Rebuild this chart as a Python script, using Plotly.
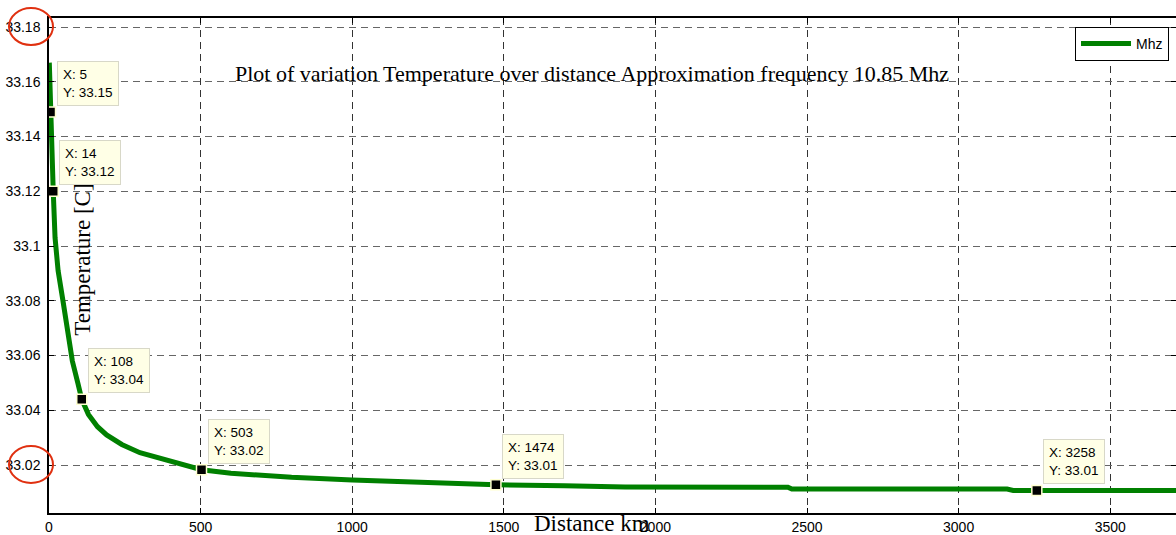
import plotly.graph_objects as go

# Curve
distance = [1, 3, 5, 8, 14, 20, 30, 46, 60, 77, 95, 108, 130, 160, 190, 240, 300, 400, 503,
            600, 800, 1000, 1200, 1474, 1700, 1900, 2437, 2450, 3160, 3180, 3258, 3720]
temperature = [33.167, 33.158, 33.149, 33.137, 33.120, 33.103, 33.091, 33.080, 33.069, 33.058,
               33.050, 33.044, 33.0385, 33.034, 33.031, 33.0275, 33.0245, 33.0213, 33.0183,
               33.0170, 33.0155, 33.0145, 33.0137, 33.0128, 33.0124, 33.0120, 33.0119,
               33.0112, 33.0112, 33.0107, 33.0107, 33.0107]

# Data tips
tip_x = [5, 14, 108, 503, 1474, 3258]
tip_y = [33.149, 33.120, 33.044, 33.0183, 33.0128, 33.0107]
tip_labels = ["33.15", "33.12", "33.04", "33.02", "33.01", "33.01"]

x_ticks = [0, 500, 1000, 1500, 2000, 2500, 3000, 3500]
y_ticks = [33.02, 33.04, 33.06, 33.08, 33.10, 33.12, 33.14, 33.16, 33.18]
y_ticktext = ["33.02", "33.04", "33.06", "33.08", "33.1", "33.12", "33.14", "33.16", "33.18"]
circled_ticks = [33.18, 33.02]

x_range = [0, 3717]
y_range = [33.00247, 33.1833]

SANS = "Arial, Liberation Sans, sans-serif"
SERIF = "Times New Roman, Liberation Serif, serif"

fig = go.Figure()
fig.add_trace(go.Scatter(x=distance, y=temperature, mode="lines", name="Mhz",
                         line=dict(color="#008000", width=5)))
fig.add_trace(go.Scatter(x=tip_x, y=tip_y, mode="markers", showlegend=False,
                         marker=dict(symbol="square", size=10, color="black",
                                     line=dict(color="#FFFFD0", width=1.5))))

# Title and axis titles placed inside/over the axes as in the original
fig.add_annotation(x=0.482, y=0.887, xref="paper", yref="paper", yanchor="middle",
                   text="Plot of variation Temperature over distance Approximation frequency 10.85 Mhz",
                   showarrow=False, font=dict(family=SERIF, size=22, color="black"))
fig.add_annotation(x=0.482, y=0, xref="paper", yref="paper", yanchor="middle", yshift=-10,
                   text="Distance km", showarrow=False,
                   font=dict(family=SERIF, size=23, color="black"))
fig.add_annotation(x=0.029, y=0.511, xref="paper", yref="paper", textangle=-90,
                   xanchor="center", yanchor="middle",
                   text="Temperature [C]", showarrow=False,
                   font=dict(family=SERIF, size=23, color="black"))

# Data tip boxes (drawn after the titles so they sit on top)
for xv, yv, lab in zip(tip_x, tip_y, tip_labels):
    fig.add_annotation(x=xv, y=yv, xref="x", yref="y", text=f"X: {xv}<br>Y: {lab}",
                       showarrow=False, xanchor="left", yanchor="bottom", xshift=6, yshift=6,
                       align="left", bgcolor="#FFFFE6", bordercolor="#D8D8C8", borderwidth=1,
                       borderpad=5, font=dict(family=SANS, size=13.5, color="black"))

# Red circles around two tick labels (paper-referenced so they are not clipped)
for yv in circled_ticks:
    frac = (yv - y_range[0]) / (y_range[1] - y_range[0])
    fig.add_shape(type="circle", xref="paper", yref="paper", xsizemode="pixel",
                  ysizemode="pixel", xanchor=0, yanchor=frac, x0=-40, x1=4, y0=-18, y1=19,
                  line=dict(color="#E03010", width=2))

fig.update_layout(
    width=1176, height=535,
    margin=dict(l=49, r=0, t=18, b=22, autoexpand=False),
    paper_bgcolor="white", plot_bgcolor="white",
    showlegend=True,
    legend=dict(x=0.9938, y=0.982, xanchor="right", yanchor="top", itemwidth=50,
                bgcolor="white", bordercolor="black", borderwidth=1,
                font=dict(family=SANS, size=14, color="black")),
    xaxis=dict(range=x_range, tickvals=x_ticks, ticks="inside", ticklen=5,
               tickcolor="black", showline=True, linecolor="black", linewidth=1.5,
               mirror="ticks", showgrid=True, gridcolor="#333", griddash="7px,5px",
               gridwidth=1, zeroline=False, automargin=False,
               tickfont=dict(family=SANS, size=14, color="black")),
    yaxis=dict(range=y_range, tickvals=y_ticks, ticktext=y_ticktext,
               ticks="inside", ticklen=5, tickcolor="black", showline=True,
               linecolor="black", linewidth=1.5, mirror="ticks", showgrid=True,
               gridcolor="#666", griddash="7px,5px", gridwidth=1, zeroline=False,
               automargin=False, ticklabelstandoff=4,
               tickfont=dict(family=SANS, size=14, color="black")),
)

fig.write_html("out.html", config={"displayModeBar": False},
               post_script="document.body.style.margin='0';document.body.style.overflow='hidden';")
